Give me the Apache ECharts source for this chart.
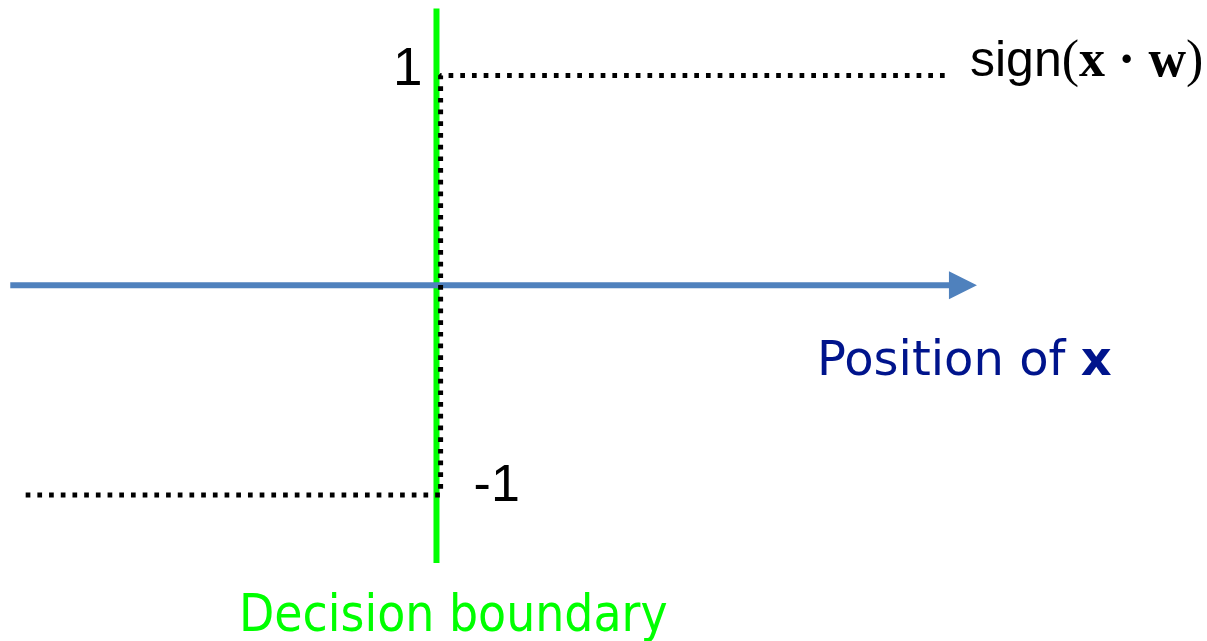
<!DOCTYPE html>
<html>
<head>
<meta charset="utf-8">
<script src="https://cdn.jsdelivr.net/npm/echarts@6/dist/echarts.min.js"></script>
<style>
html,body{margin:0;padding:0;background:#fff;}
#chart{width:1207px;height:641px;}
</style>
</head>
<body>
<div id="chart"></div>
<script>
// ---- data ----
const stepX = [-4, 0.04, 0.04, 5];        // sign(x·w) step function (x positions)
const stepY = [-1, -1, 1, 1];             // sign values
const boundaryX = [0, 0];                 // decision boundary
const boundaryY = [-1.324, 1.32];
const axisX = [-4.15, 5.05];              // horizontal axis (x · w direction)
const axisY = [0, 0];
const arrowX = [5.126];
const arrowY = [0];
const valueLabels = ['1', '-1'];
const curveName = 'sign';
const axisTitle = 'Position of ';
const axisVar = 'x';
const boundaryTitle = 'Decision boundary';

const zip = (xs, ys) => xs.map((x, i) => [x, ys[i]]);

const chart = echarts.init(document.getElementById('chart'), null, {renderer: 'canvas'});
const option = {
  backgroundColor: '#ffffff',
  animation: false,
  grid: {left: 0, right: 257, top: 75.5, bottom: 146},
  xAxis: {type: 'value', min: -4.25, max: 5, show: false},
  yAxis: {type: 'value', min: -1, max: 1, show: false},
  series: [
    {
      type: 'line', data: zip(boundaryX, boundaryY), symbol: 'none', clip: false, z: 1, silent: true,
      lineStyle: {color: '#00FF00', width: 6}
    },
    {
      type: 'line', data: zip(axisX, axisY), symbol: 'none', clip: false, z: 2, silent: true,
      lineStyle: {color: '#4F81BD', width: 6, cap: 'butt'}
    },
    {
      type: 'scatter', data: zip(arrowX, arrowY), symbol: 'triangle', symbolSize: 28, symbolRotate: -90,
      clip: false, z: 2, silent: true, itemStyle: {color: '#4F81BD', opacity: 1}
    },
    {
      type: 'line', data: zip(stepX, stepY), symbol: 'none', clip: false, z: 3, silent: true,
      lineStyle: {color: '#000000', width: 5, type: [4.7, 7], cap: 'butt'}
    },
    {
      type: 'scatter', symbolSize: 0, clip: false, z: 4, silent: true,
      itemStyle: {color: 'transparent', opacity: 1},
      data: [
        {value: [stepX[1], stepY[2]], label: {show: true, formatter: valueLabels[0], position: [-18, -5.5],
          align: 'right', verticalAlign: 'middle', fontFamily: 'Liberation Sans', fontSize: 53, color: '#000', opacity: 1}},
        {value: [stepX[1], stepY[1]], label: {show: true, formatter: valueLabels[1], position: [33, -8],
          align: 'left', verticalAlign: 'middle', fontFamily: 'Liberation Sans', fontSize: 52, color: '#000', opacity: 1}},
        {value: [stepX[3], stepY[3]], label: {show: true, position: [20, -13], align: 'left', verticalAlign: 'middle', opacity: 1,
          formatter: '{s|' + curveName + '}{p|(}{v|x · w}{p|)}',
          rich: {
            s: {fontFamily: 'Liberation Sans', fontSize: 50, color: '#000'},
            p: {fontFamily: 'Liberation Serif', fontSize: 52, color: '#000'},
            v: {fontFamily: 'Liberation Serif', fontWeight: 'bold', fontSize: 52, color: '#000'}
          }}}
      ]
    }
  ],
  graphic: [
    {
      type: 'text', left: 817, top: 363 - 24, silent: true,
      style: {
        text: '{n|' + axisTitle + '}{b|' + axisVar + '}',
        rich: {
          n: {fontFamily: 'DejaVu Sans', fontSize: 48, fill: '#00148C', lineHeight: 48},
          b: {fontFamily: 'DejaVu Sans', fontWeight: 'bold', fontSize: 48, fill: '#00148C', lineHeight: 48}
        }
      }
    },
    {
      type: 'text', left: 239, top: 618 - 26, silent: true,
      style: {
        text: boundaryTitle,
        font: '51px "DejaVu Sans Condensed", "DejaVu Sans"',
        fill: '#00FF00', lineHeight: 51
      }
    }
  ]
};
chart.setOption(option);
</script>
</body>
</html>
